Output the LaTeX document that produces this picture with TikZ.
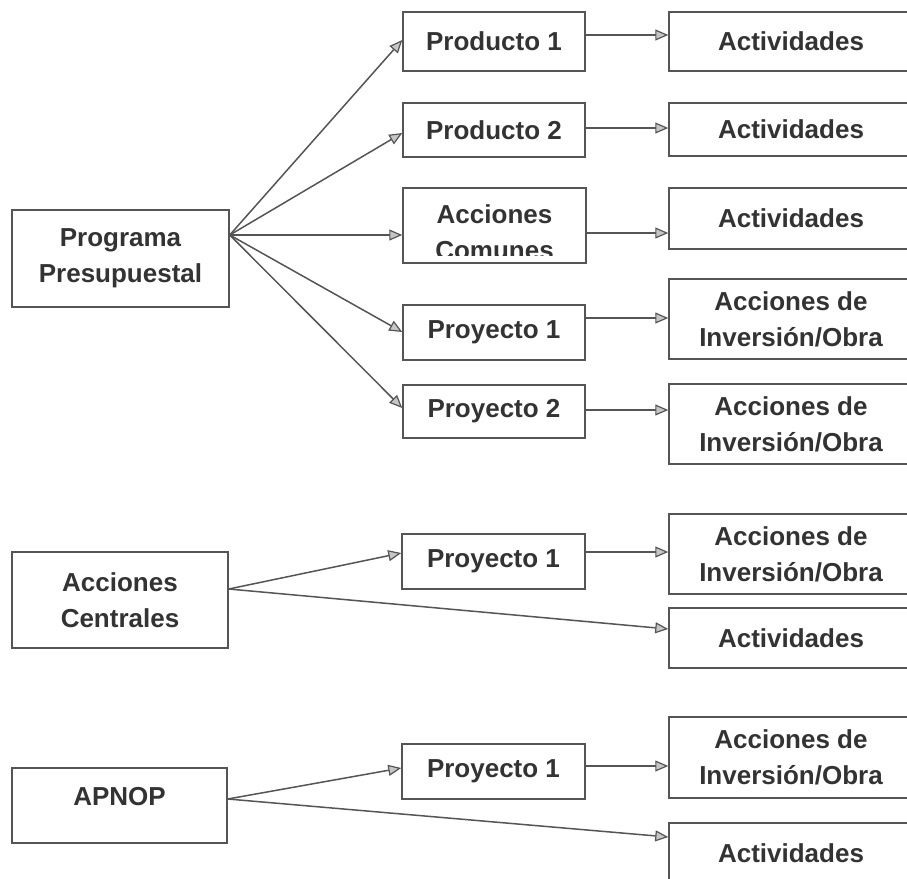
\documentclass[tikz,border=0pt]{standalone}
\usepackage{fontspec}
\setmainfont{Liberation Sans}
\usetikzlibrary{arrows.meta,calc}
\definecolor{lnc}{HTML}{555555}
\definecolor{txc}{HTML}{333333}
\begin{document}
\begin{tikzpicture}[x=1pt,y=-1pt,
  box/.style={draw=lnc,line width=1.5pt,rectangle,inner sep=0pt,align=center,
    text=txc,font=\fontsize{26}{36}\selectfont\bfseries},
  txt/.style={inner sep=0pt,align=center,text=txc,font=\fontsize{26}{36}\selectfont\bfseries},
  arr/.style={draw=lnc,line width=1.5pt,-{Triangle[length=13pt,width=11pt,fill=gray!45,line width=1.2pt]}}]
\useasboundingbox (0,0) rectangle (907,878);
\clip (0,0) rectangle (907,878);
\fill[white] (0,0) rectangle (907,878);
% left boxes
\node[box,minimum width=217pt,minimum height=97pt] (pp) at (120.5,258.5) {Programa\\Presupuestal};
\node[box,minimum width=216pt,minimum height=96pt] (accen) at (120,600) {Acciones\\Centrales};
\node[box,minimum width=215pt,minimum height=75pt] (apnop) at (119.5,805.5) {};
\node[txt] (apnoptxt) at (119.5,797) {APNOP};
% middle boxes
\node[box,minimum width=182pt,minimum height=59pt] (p1) at (494,41.5) {Producto 1};
\node[box,minimum width=182pt,minimum height=54pt] (p2) at (494,130) {Producto 2};
\node[box,minimum width=183pt,minimum height=75pt] (ac) at (494.5,225.5) {};
\begin{scope}
  \clip (ac.north west) rectangle ([yshift=8pt]ac.south east);
  \node[txt] (actxt) at (494.5,232) {Acciones\\Comunes};
\end{scope}
\node[box,minimum width=182pt,minimum height=55pt] (py1) at (494,332.5) {Proyecto 1};
\node[box,minimum width=182pt,minimum height=53pt] (py2) at (494,411.5) {Proyecto 2};
\node[box,minimum width=183pt,minimum height=55pt] (pc) at (493.5,561.5) {Proyecto 1};
\node[box,minimum width=183pt,minimum height=55pt] (pa) at (493.5,771.5) {Proyecto 1};
% right boxes
\node[box,minimum width=244pt,minimum height=59pt] (a1) at (791,41.5) {Actividades};
\node[box,minimum width=244pt,minimum height=53pt] (a2) at (791,129.5) {Actividades};
\node[box,minimum width=244pt,minimum height=61pt] (a3) at (791,218.5) {Actividades};
\node[box,minimum width=244pt,minimum height=80pt] (i1) at (791,319) {Acciones de\\Inversión/Obra};
\node[box,minimum width=244pt,minimum height=80pt] (i2) at (791,424) {Acciones de\\Inversión/Obra};
\node[box,minimum width=244pt,minimum height=80pt] (ic) at (791,554) {Acciones de\\Inversión/Obra};
\node[box,minimum width=244pt,minimum height=60pt] (actc) at (791,638) {Actividades};
\node[box,minimum width=244pt,minimum height=81pt] (ia) at (791,757.5) {Acciones de\\Inversión/Obra};
\node[box,minimum width=244pt,minimum height=60pt] (acta) at (791,853) {Actividades};
% origins
\coordinate (ppo) at (pp.east |- 0,235);
\coordinate (aco) at (accen.east |- 0,589);
\coordinate (apo) at (apnop.east |- 0,799);
% fan from Programa Presupuestal
\draw[arr] (ppo) -- (p1.west |- 0,40);
\draw[arr] (ppo) -- (p2.west |- 0,133);
\draw[arr] (ppo) -- (ac.west |- 0,235);
\draw[arr] (ppo) -- (py1.west |- 0,332);
\draw[arr] (ppo) -- (py2.west |- 0,408);
% horizontal
\draw[arr] (p1.east |- 0,35) -- (a1.west |- 0,35);
\draw[arr] (p2.east |- 0,128) -- (a2.west |- 0,128);
\draw[arr] (ac.east |- 0,233) -- (a3.west |- 0,233);
\draw[arr] (py1.east |- 0,318) -- (i1.west |- 0,318);
\draw[arr] (py2.east |- 0,410) -- (i2.west |- 0,410);
% Acciones Centrales
\draw[arr] (aco) -- (pc.west |- 0,553);
\draw[arr] (aco) -- (actc.west |- 0,629);
\draw[arr] (pc.east |- 0,552) -- (ic.west |- 0,552);
% APNOP
\draw[arr] (apo) -- (pa.west |- 0,768);
\draw[arr] (apo) -- (acta.west |- 0,837);
\draw[arr] (pa.east |- 0,766) -- (ia.west |- 0,766);
\end{tikzpicture}
\end{document}
